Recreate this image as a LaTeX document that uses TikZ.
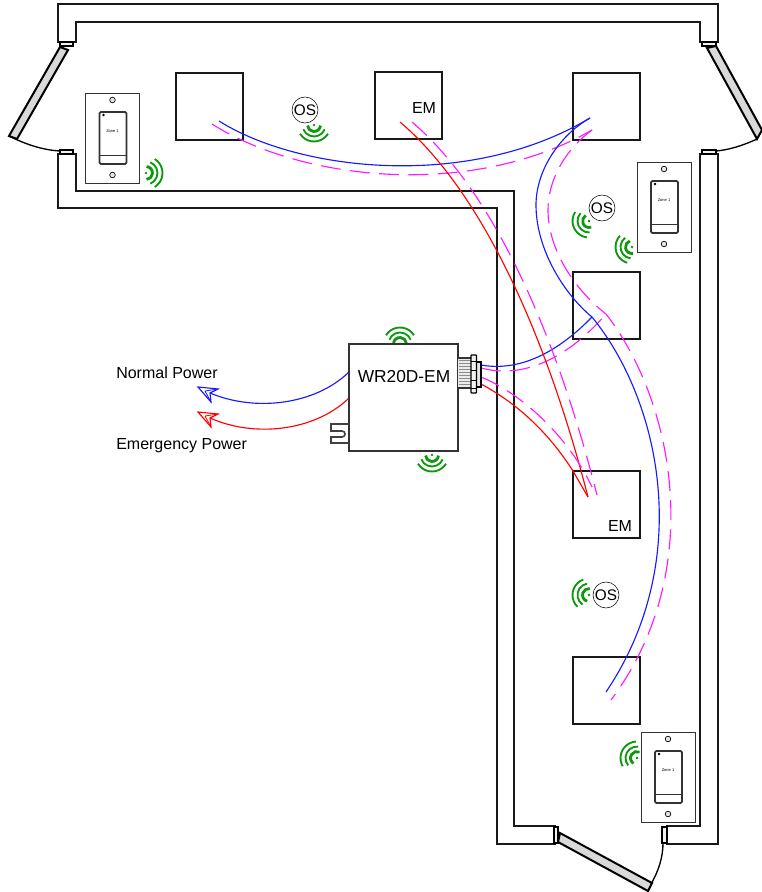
\documentclass[tikz,border=0pt]{standalone}
\usepackage{fontspec}
\setmainfont{Liberation Sans}
\usepackage{tikz}

\definecolor{wavegreen}{rgb}{0.05,0.6,0.05}
\definecolor{wirepink}{rgb}{1,0.1,1}
\definecolor{wireblue}{rgb}{0.1,0.1,1}
\definecolor{doorgray}{rgb}{0.85,0.85,0.85}

\tikzset{
  wall/.style={line width=1.6pt,black!90},
  fixture/.style={line width=1.6pt,black!90},
  doorleaf/.style={line width=1.5pt,fill=doorgray},
  doorjamb/.style={line width=1pt,fill=doorgray!40},
  bluewire/.style={wireblue,line width=0.85pt},
  redwire/.style={red,line width=0.85pt},
  pinkwire/.style={wirepink,line width=0.85pt,dash pattern=on 15pt off 7pt},
  sensortag/.style={draw,circle,minimum size=19.5pt,inner sep=0pt,font=\fontsize{11.5}{12}\selectfont},
}

\newcommand{\wallswitch}[3]{
  \begin{scope}[shift={(#2,#3)}]
    \draw [line width=0.7pt,black!80,fill=white] (0,0) rectangle (54,90);
    \draw [line width=0.5pt,fill=black!10] (27,7) circle [radius=2.8];
    \draw [line width=0.5pt,fill=black!10] (27,82) circle [radius=2.8];
    \draw [line width=1.3pt,black!80,rounded corners=1pt] (14,19) rectangle (41,71);
    \draw [line width=0.9pt,black!80] (14,62.5) -- (41,62.5);
    \fill (18,22) circle [radius=1.3];
    \node (#1) at (27,38) [inner sep=0pt,font=\fontsize{3}{3}\selectfont] {Zone 1};
  \end{scope}
}
\newcommand{\wavesign}[3]{
  \begin{scope}[shift={(#2,#3)},rotate=#1]
    \fill [wavegreen] (0,0) circle [radius=1.4];
    \draw [wavegreen,line width=2.1pt] (-85:6.5) arc (-85:85:6.5);
    \draw [wavegreen,line width=1.4pt] (-68:11.5) arc (-68:68:11.5);
    \draw [wavegreen,line width=1.4pt] (-58:16.5) arc (-58:58:16.5);
  \end{scope}
}
\newcommand{\planehead}[2]{
  \begin{scope}[shift={(0,#2)}]
    \draw [line width=0.85pt,#1] (198,387) -- (218,389) -- (210,393) -- (211,402) -- cycle;
    \draw [line width=0.6pt,#1] (205,391) -- (218,389) (205,391) -- (211,402);
  \end{scope}
}

\begin{document}
\begin{tikzpicture}[x=0.75pt,y=0.75pt,yscale=-1,xscale=1]
\useasboundingbox (0,0) rectangle (762,892);

%Upper corridor walls
\draw [wall] (58,42) -- (58,4) -- (718,4) -- (718,42) -- (700,42) -- (700,22) -- (76,22) -- (76,42) -- cycle ;
\draw [wall] (76,154) -- (76,191) -- (514,191) -- (514,826) -- (555,826) -- (555,844) -- (497,844) -- (497,208) -- (58,208) -- (58,154) -- cycle ;
\draw [wall] (700,154) -- (700,826) -- (667,826) -- (667,844) -- (718,844) -- (718,154) -- cycle ;

%Door jambs
\draw [doorjamb] (60,42) rectangle (73,46) ;
\draw [doorjamb] (60,150) rectangle (73,154) ;
\draw [doorjamb] (702,42) rectangle (716,46) ;
\draw [doorjamb] (702,150) rectangle (716,154) ;
\draw [doorjamb] (554,827) rectangle (558,843) ;
\draw [doorjamb] (662,827) rectangle (667,843) ;

%Door leaves
\draw [doorleaf] (60,47) -- (68,50) -- (17,139) -- (9,136) -- cycle ;
\draw [doorleaf] (707,48) -- (716,46) -- (762,130) -- (757,139) -- cycle ;
\draw [doorleaf] (560,833) -- (558,842) -- (648,891) -- (652,883) -- cycle ;

%Door swings
\draw [line width=1pt] (9,136) .. controls (25,144) and (42,150) .. (60,151) ;
\draw [line width=1pt] (757,139) .. controls (742,146) and (728,150) .. (716,151) ;
\draw [line width=1pt] (651,884) .. controls (658,872) and (663,858) .. (663,843) ;

%Fixtures
\draw [fixture] (176,73) rectangle (243,140) ;
\draw [fixture] (375,72) rectangle (442,139) ;
\draw [fixture] (573,73) rectangle (640,140) ;
\draw [fixture] (573,272) rectangle (640,339) ;
\draw [fixture] (573,471) rectangle (640,538) ;
\draw [fixture] (573,657) rectangle (640,724) ;

%Wave signs
\wavesign{0}{146}{173}
\wavesign{90}{314}{125}
\wavesign{155}{589}{221}
\wavesign{165}{632}{247}
\wavesign{192}{589}{595}
\wavesign{208}{637}{758}
\wavesign{270}{400}{344}
\wavesign{90}{432}{455}

%Wall switches
\wallswitch{zonewest}{85.5}{93}
\wallswitch{zoneeast}{637}{162}
\wallswitch{zonesouth}{641}{732}

%Wire junctions
\coordinate (bluetop) at (590,118);
\coordinate (pinktop) at (592,130);
\coordinate (bluemid) at (592,317);
\coordinate (pinkmid) at (606,314);
\coordinate (redend) at (588,497);
\coordinate (pinkend) at (597,495);
\coordinate (pinkendb) at (592,487);
\coordinate (bluenormal) at (349,372);
\coordinate (rednormal) at (349,398);
\coordinate (bluehead) at (210,393);
\coordinate (redhead) at (210,418);

%Curve Lines
\draw [bluewire] (219,121) .. controls (300,172) and (470,190) .. (bluetop) ;
\draw [pinkwire] (212,124) .. controls (300,180) and (470,200) .. (pinktop) ;
\draw [bluewire] (bluetop) .. controls (560,135) and (536,170) .. (536,205) .. controls (536,250) and (565,295) .. (bluemid) ;
\draw [pinkwire] (pinktop) .. controls (565,150) and (548,180) .. (548,210) .. controls (548,250) and (575,290) .. (pinkmid) ;
\draw [bluewire] (481,365) .. controls (520,372) and (558,352) .. (bluemid) ;
\draw [pinkwire] (481,368) .. controls (530,381) and (575,350) .. (pinkmid) ;
\draw [bluewire] (bluemid) .. controls (660,400) and (695,560) .. (606,692) ;
\draw [pinkwire,dash phase=4pt] (pinkmid) .. controls (673,400) and (708,570) .. (611,700) ;
\draw [redwire] (400,122) .. controls (480,190) and (545,330) .. (redend) ;
\draw [pinkwire] (412,122) .. controls (492,190) and (555,330) .. (pinkend) ;
\draw [redwire] (481,384) .. controls (520,405) and (550,435) .. (573,471) -- (redend) ;
\draw [pinkwire] (481,377) .. controls (525,395) and (570,440) .. (pinkendb) ;
\draw [bluewire] (bluenormal) .. controls (315,405) and (255,412) .. (bluehead) ;
\draw [redwire] (rednormal) .. controls (315,431) and (255,438) .. (redhead) ;

%Arrow heads
\planehead{wireblue}{0}
\planehead{red}{25}

%Module
\fill [white] (349,344) rectangle (458,451) ;
\draw [line width=0.8pt,black!80] (349,344) rectangle (458,451) ;

%Plug
\draw [line width=1.2pt,black!75] (349,424) -- (331,424) -- (331,431) -- (342,431) .. controls (346,431) and (346,437) .. (342,437) -- (331,437) -- (331,443) -- (349,443) ;

%Threads
\fill [black!8] (458,358) rectangle (471,388) ;
\foreach \ty in {360,363,...,387} { \draw [line width=0.4pt,black!45] (459,\ty) -- (471,\ty) ; }
\draw [line width=0.9pt,black!80] (458,358) -- (471,358) (458,388) -- (471,388) ;
\draw [line width=0.9pt,fill=black!10] (476.5,362) rectangle (481,387) ;
\draw [line width=0.9pt,fill=black!5,rounded corners=0.6pt] (471,355) rectangle (476.5,393) ;
\draw [line width=0.6pt] (471,361) -- (476.5,361) (471,370) -- (476.5,370) (471,380) -- (476.5,380) (471,388) -- (476.5,388) ;

% Text Node
\draw (404,377) node (modulelabel) [inner sep=0.75pt,font=\fontsize{13}{14}\selectfont]  {WR20D-EM};
% Text Node
\draw (115,373) node (normallabel) [anchor=west,inner sep=0.75pt,font=\fontsize{12}{13}\selectfont]  {Normal Power};
\draw (115,446) node (emergencylabel) [anchor=west,inner sep=0.75pt,font=\fontsize{12}{13}\selectfont]  {Emergency Power};
% Text Node
\draw (424,108) node (emnorth) [inner sep=0.75pt,font=\fontsize{12}{13}\selectfont]  {EM};
\draw (620,526) node (emsouth) [inner sep=0.75pt,font=\fontsize{12}{13}\selectfont]  {EM};
% Text Node
\node (osnorth) at (305,110) [sensortag] {OS};
\node (oseast) at (602,208) [sensortag,fill=white] {OS};
\node (ossouth) at (606,595) [sensortag,fill=white] {OS};

\end{tikzpicture}
\end{document}
